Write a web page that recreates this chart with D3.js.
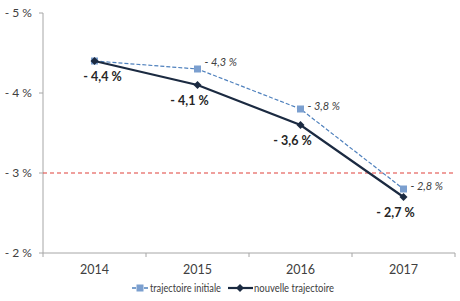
<!DOCTYPE html>
<html>
<head>
<meta charset="utf-8">
<script src="https://cdn.jsdelivr.net/npm/d3@7"></script>
<style>
  body { margin: 0; background: #fff; }
  svg { font-family: Lato, "Open Sans", sans-serif; }
</style>
</head>
<body>
<svg id="chart" width="460" height="301"></svg>
<script>
// données
const years = ["2014", "2015", "2016", "2017"];
const initiale = [-4.4, -4.3, -3.8, -2.8];
const nouvelle = [-4.4, -4.1, -3.6, -2.7];
const yTicks = [-5, -4, -3, -2];
const seuil = -3;

const svg = d3.select("#chart");
const mLeft = 43, mRight = 455, mTop = 13, mBottom = 253;

const x = d3.scaleBand().domain(years).range([mLeft, mRight]);
const y = d3.scaleLinear().domain([-5, -2]).range([mTop, mBottom]);
const fmt = v => "- " + d3.format(".1f")(Math.abs(v)).replace(".", ",") + " %";
const cx = yr => x(yr) + x.bandwidth() / 2;

// axe Y
svg.append("line").attr("x1", mLeft).attr("x2", mLeft).attr("y1", mTop).attr("y2", mBottom)
  .attr("stroke", "#a6a6a6");
svg.selectAll(".ytick").data(yTicks).enter().append("line")
  .attr("x1", mLeft - 4).attr("x2", mLeft).attr("y1", d => y(d)).attr("y2", d => y(d))
  .attr("stroke", "#a6a6a6");
svg.selectAll(".ylab").data(yTicks).enter().append("text")
  .attr("x", mLeft - 11).attr("y", d => y(d) + 4)
  .attr("text-anchor", "end").attr("font-size", 12).attr("fill", "#404040")
  .text(d => "- " + Math.abs(d) + " %");

// axe X
svg.append("line").attr("x1", mLeft).attr("x2", mRight).attr("y1", mBottom).attr("y2", mBottom)
  .attr("stroke", "#a6a6a6");
const xt = years.map(d => x(d)).concat([mRight]);
svg.selectAll(".xtick").data(xt).enter().append("line")
  .attr("x1", d => d).attr("x2", d => d).attr("y1", mBottom).attr("y2", mBottom + 4)
  .attr("stroke", "#a6a6a6");
svg.selectAll(".xlab").data(years).enter().append("text")
  .attr("x", d => cx(d)).attr("y", mBottom + 21)
  .attr("text-anchor", "middle").attr("font-size", 12.5).attr("fill", "#404040")
  .text(d => d);

// seuil -3 %
svg.append("line").attr("x1", mLeft).attr("x2", mRight).attr("y1", y(seuil)).attr("y2", y(seuil))
  .attr("stroke", "#e0413b").attr("stroke-width", 1.2).attr("stroke-dasharray", "4,3");

const ptsI = years.map((yr, i) => ({ yr, v: initiale[i], i }));
const ptsN = years.map((yr, i) => ({ yr, v: nouvelle[i], i }));
const line = d3.line().x(d => cx(d.yr)).y(d => y(d.v));
const diamond = d3.symbol(d3.symbolSquare, 32);

// trajectoire initiale
svg.append("path").datum(ptsI).attr("d", line)
  .attr("fill", "none").attr("stroke", "#4f81bd").attr("stroke-width", 1.2)
  .attr("stroke-dasharray", "4,2");
svg.selectAll(".pi").data(ptsI).enter().append("rect")
  .attr("x", d => cx(d.yr) - 3.5).attr("y", d => y(d.v) - 3.5)
  .attr("width", 7).attr("height", 7).attr("fill", "#7b9fcf");

// nouvelle trajectoire
svg.append("path").datum(ptsN).attr("d", line)
  .attr("fill", "none").attr("stroke", "#1b2a41").attr("stroke-width", 2.2);
svg.selectAll(".pn").data(ptsN).enter().append("path")
  .attr("d", diamond)
  .attr("transform", d => `translate(${cx(d.yr)},${y(d.v)}) rotate(45)`)
  .attr("fill", "#1b2a41");

// étiquettes
svg.selectAll(".li").data(ptsI.filter(d => d.i > 0)).enter().append("text")
  .attr("x", d => cx(d.yr) + 7).attr("y", d => y(d.v) + (d.i === 1 ? -3 : 1))
  .attr("font-size", 11).attr("font-style", "italic").attr("fill", "#404040")
  .text(d => fmt(d.v));
svg.selectAll(".ln").data(ptsN).enter().append("text")
  .attr("x", d => cx(d.yr) + (d.i === 0 ? 8 : -8)).attr("y", d => y(d.v) + 20)
  .attr("text-anchor", "middle").attr("font-size", 12.5).attr("font-weight", "bold").attr("fill", "#262626")
  .text(d => fmt(d.v));

// légende
const ly = 288;
const lg = svg.append("g");
lg.append("line").attr("x1", 132).attr("x2", 148).attr("y1", ly).attr("y2", ly)
  .attr("stroke", "#4f81bd").attr("stroke-width", 1.5).attr("stroke-dasharray", "4,2");
lg.append("rect").attr("x", 136.5).attr("y", ly - 3.5).attr("width", 7).attr("height", 7).attr("fill", "#7b9fcf");
lg.append("text").attr("x", 150).attr("y", ly + 4).attr("font-size", 10.5).attr("fill", "#404040")
  .attr("textLength", 71).attr("lengthAdjust", "spacingAndGlyphs")
  .text("trajectoire initiale");
lg.append("line").attr("x1", 228).attr("x2", 253).attr("y1", ly).attr("y2", ly)
  .attr("stroke", "#1b2a41").attr("stroke-width", 2.2);
lg.append("path").attr("d", diamond)
  .attr("transform", `translate(240,${ly}) rotate(45)`).attr("fill", "#1b2a41");
lg.append("text").attr("x", 254).attr("y", ly + 4).attr("font-size", 10.5).attr("fill", "#404040")
  .attr("textLength", 80).attr("lengthAdjust", "spacingAndGlyphs")
  .text("nouvelle trajectoire");
</script>
</body>
</html>
